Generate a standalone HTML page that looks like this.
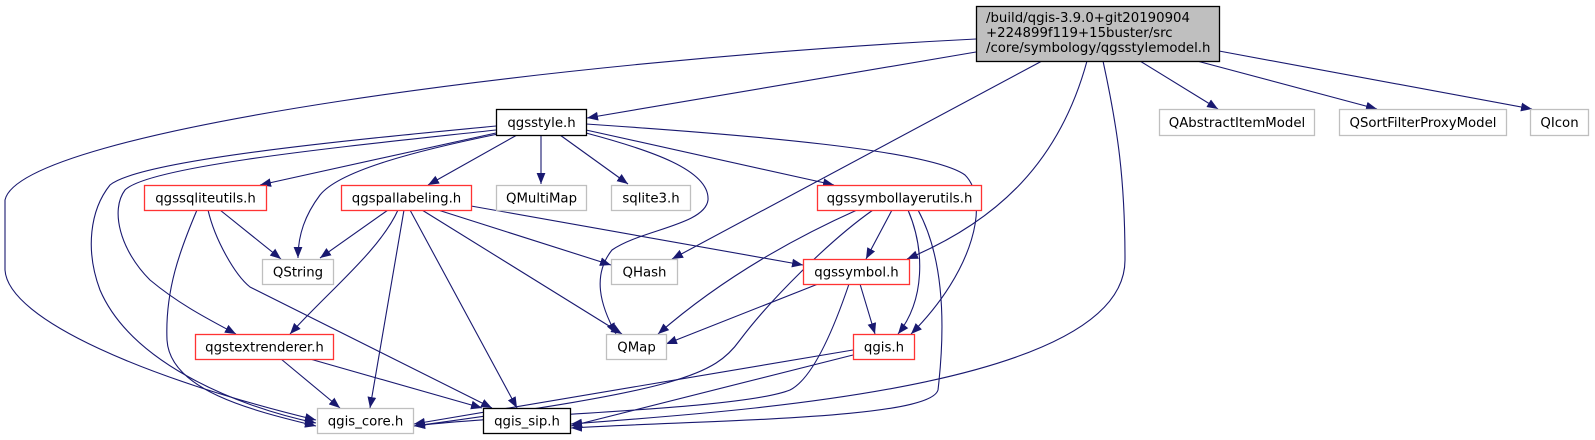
<!DOCTYPE html>
<html><head><meta charset="utf-8"><style>
html,body{margin:0;padding:0;background:#fff;}
svg{display:block;}
text{font-family:"DejaVu Sans","Liberation Sans",sans-serif;font-size:13.3px;fill:#000;}
</style></head><body>
<svg width="1595" height="440" viewBox="0 0 1595 440" xmlns="http://www.w3.org/2000/svg">
<defs><marker id="a" viewBox="0 0 10 10" refX="10" refY="5" markerWidth="11" markerHeight="11" markerUnits="userSpaceOnUse" orient="auto"><path d="M0,1 L10,5 L0,9 z" fill="#191970"/></marker></defs>
<g fill="none" stroke="#191970" stroke-width="1.1" marker-end="url(#a)">
<!-- root edges -->
<path d="M976,39 C560,60 20,130 5,200 L5,270 C8,320 150,380 316,420"/>
<path d="M976,52 L587,118"/>
<path d="M1042,61 L672,259"/>
<path d="M1087,61 C1060,160 1000,220 907,259"/>
<path d="M1103,61 C1118,130 1125,180 1125,260 C1125,390 720,412 571,424"/>
<path d="M1140,61 L1218,109"/>
<path d="M1197,61 L1377,109"/>
<path d="M1219,51 L1532,109"/>
<!-- qgsstyle edges -->
<path d="M496,126 C350,140 140,160 110,185 C90,210 85,250 100,290 C130,360 230,405 316,423"/>
<path d="M496,130 C360,145 150,165 125,190 C110,210 120,250 150,280 C180,305 210,320 236,334"/>
<path d="M496,133 L260,185"/>
<path d="M498,134 C420,150 340,170 320,195 C305,215 298,235 298,258"/>
<path d="M517,135 L428,185"/>
<path d="M541,135 L541,184"/>
<path d="M560,135 L628,184"/>
<path d="M586,130 L834,185"/>
<path d="M586,133 C650,150 710,170 708,200 C705,225 640,230 612,250 C592,275 600,305 616,334"/>
<path d="M586,124 C750,135 930,150 965,175 C990,200 975,270 911,334"/>
<!-- qgssqliteutils -->
<path d="M220,210 L281,259"/>
<path d="M197,210 C180,250 165,290 167,340 C170,390 250,410 316,426"/>
<path d="M208,210 C215,240 235,275 250,287 L492,408"/>
<!-- qgspallabeling -->
<path d="M388,210 L320,258"/>
<path d="M398,210 C380,250 330,290 290,334"/>
<path d="M404,210 L370,408"/>
<path d="M410,210 L517,408"/>
<path d="M422,210 L622,334"/>
<path d="M438,210 L611,265"/>
<path d="M471,206 L803,265"/>
<!-- qgstextrenderer -->
<path d="M281,359 L340,408"/>
<path d="M310,359 L482,408"/>
<!-- qgssymbollayerutils -->
<path d="M857,210 C790,240 720,280 658,334"/>
<path d="M873,210 C830,240 770,300 740,340 C715,375 680,390 414,426"/>
<path d="M892,210 L866,259"/>
<path d="M908,210 C925,250 925,300 898,334"/>
<path d="M918,210 C945,260 945,330 938,390 C930,420 700,420 571,428"/>
<!-- qgssymbol -->
<path d="M818,284 L666,344"/>
<path d="M849,284 C830,340 810,380 790,390 C740,410 500,415 414,426"/>
<path d="M860,284 L875,334"/>
<!-- qgis.h -->
<path d="M853,350 L414,424"/>
<path d="M853,355 L571,426"/>
</g>
<g stroke-width="1.3">
<rect x="976.5" y="6.5" width="243" height="55" fill="#bfbfbf" stroke="#000"/>
<rect x="496.5" y="109.5" width="90" height="26" fill="#fff" stroke="#000"/>
<rect x="1159.5" y="109.5" width="155" height="26" fill="#fff" stroke="#bfbfbf"/>
<rect x="1339.5" y="109.5" width="167" height="26" fill="#fff" stroke="#bfbfbf"/>
<rect x="1530.5" y="109.5" width="58" height="26" fill="#fff" stroke="#bfbfbf"/>
<rect x="144.5" y="185.5" width="122" height="25" fill="#fff" stroke="#f33"/>
<rect x="341.5" y="185.5" width="130" height="25" fill="#fff" stroke="#f33"/>
<rect x="496.5" y="185.5" width="90" height="25" fill="#fff" stroke="#bfbfbf"/>
<rect x="611.5" y="185.5" width="79" height="25" fill="#fff" stroke="#bfbfbf"/>
<rect x="817.5" y="185.5" width="164" height="25" fill="#fff" stroke="#f33"/>
<rect x="262.5" y="259.5" width="71" height="25" fill="#fff" stroke="#bfbfbf"/>
<rect x="611.5" y="259.5" width="66" height="25" fill="#fff" stroke="#bfbfbf"/>
<rect x="803.5" y="259.5" width="106" height="25" fill="#fff" stroke="#f33"/>
<rect x="606.5" y="334.5" width="60" height="25" fill="#fff" stroke="#bfbfbf"/>
<rect x="853.5" y="334.5" width="61" height="25" fill="#fff" stroke="#f33"/>
<rect x="195.5" y="334.5" width="138" height="25" fill="#fff" stroke="#f33"/>
<rect x="317.5" y="408.5" width="96" height="25" fill="#fff" stroke="#bfbfbf"/>
<rect x="483.5" y="408.5" width="87" height="25" fill="#fff" stroke="#000"/>
</g>
<g>
<text x="986" y="22">/build/qgis-3.9.0+git20190904</text>
<text x="986" y="37">+224899f119+15buster/src</text>
<text x="986" y="52">/core/symbology/qgsstylemodel.h</text>
</g>
<g text-anchor="middle">
<text x="541.5" y="127">qgsstyle.h</text>
<text x="1237" y="127">QAbstractItemModel</text>
<text x="1423" y="127">QSortFilterProxyModel</text>
<text x="1559.5" y="127">QIcon</text>
<text x="205.5" y="202.5">qgssqliteutils.h</text>
<text x="406.5" y="202.5">qgspallabeling.h</text>
<text x="541.5" y="202.5">QMultiMap</text>
<text x="651" y="202.5">sqlite3.h</text>
<text x="899.5" y="202.5">qgssymbollayerutils.h</text>
<text x="298" y="276.5">QString</text>
<text x="644.5" y="276.5">QHash</text>
<text x="856.5" y="276.5">qgssymbol.h</text>
<text x="636.5" y="351.5">QMap</text>
<text x="884" y="351.5">qgis.h</text>
<text x="264.5" y="351.5">qgstextrenderer.h</text>
<text x="365.5" y="425.5">qgis_core.h</text>
<text x="527" y="425.5">qgis_sip.h</text>
</g>
</svg>
</body></html>
